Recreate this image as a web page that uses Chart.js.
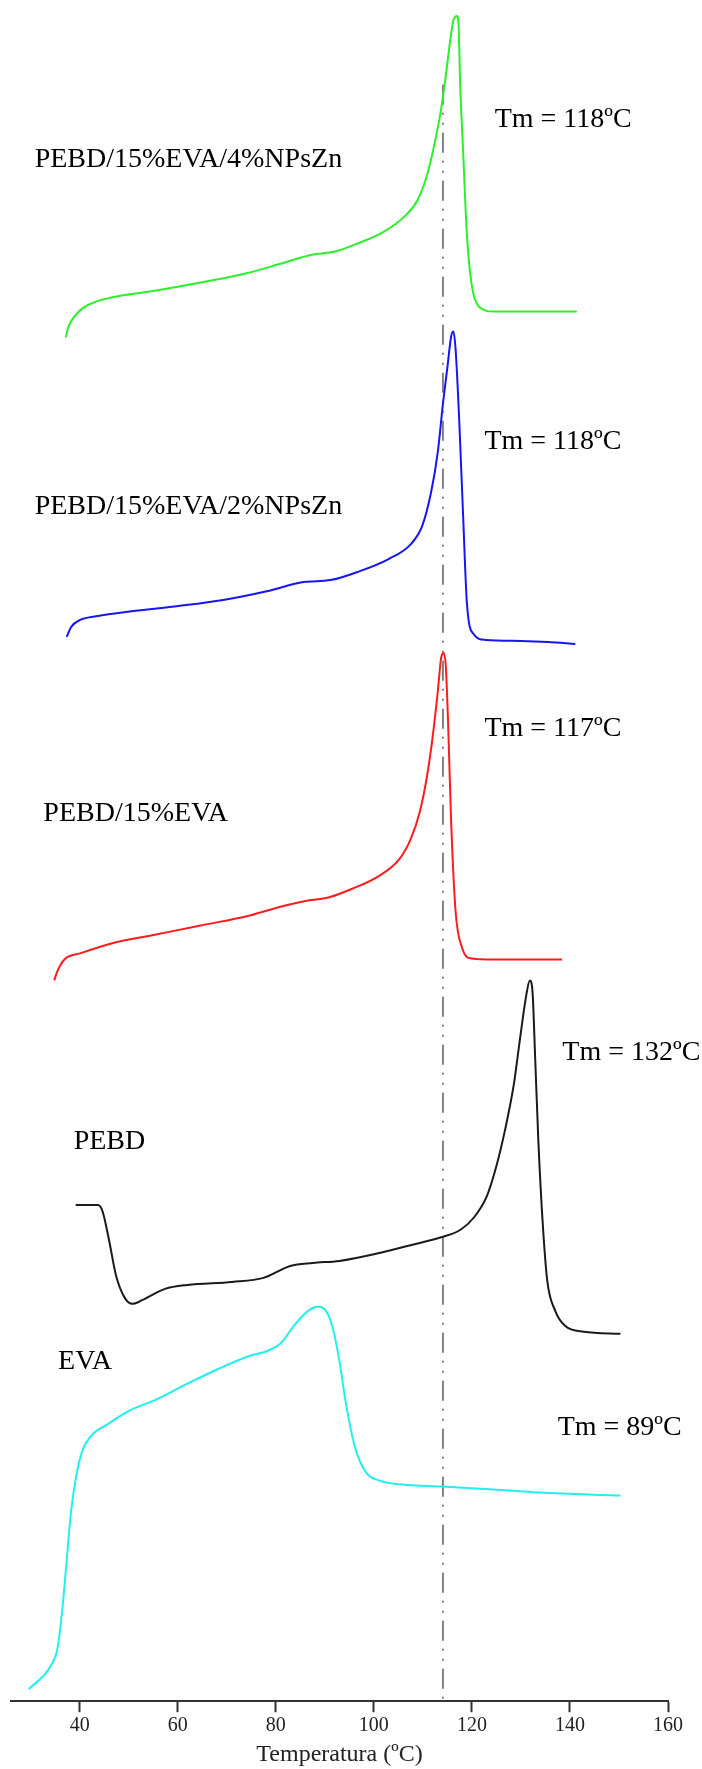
<!DOCTYPE html>
<html>
<head>
<meta charset="utf-8">
<script src="https://cdn.jsdelivr.net/npm/chart.js@4.4.1/dist/chart.umd.min.js"></script>
<style>
  html, body { margin: 0; padding: 0; background: #ffffff; }
  #wrap { width: 702px; height: 1769px; }
</style>
</head>
<body>
<div id="wrap"><canvas id="c" width="702" height="1769"></canvas></div>
<script>
// ---- Data (temperature in ºC, heat flow in arbitrary units, curves stacked) ----
const tickTemps = [40, 60, 80, 100, 120, 140, 160];

const tempNPs4 = [37.18, 37.54, 39.65, 41.92, 46.48, 55.60, 64.71, 73.83, 81.12, 87.51, 92.07, 96.62, 102.09, 106.65, 108.95, 110.76, 112.12, 113.60, 114.65, 115.60, 116.25, 116.98, 117.27, 117.60, 118.20, 118.96, 119.90, 121.40, 124.40, 141.40];
const flowNPs4 = [136.6, 137.4, 139.1, 139.9, 140.6, 141.3, 142.1, 143.0, 144.0, 144.9, 145.2, 146.0, 147.2, 148.9, 150.4, 152.7, 155.4, 159.1, 162.7, 166.4, 168.4, 168.8, 168.1, 162.1, 155.4, 147.1, 142.1, 139.7, 139.2, 139.2];

const tempNPs2 = [37.36, 38.27, 40.09, 43.75, 51.04, 60.15, 69.27, 78.39, 85.68, 91.16, 96.62, 103.01, 107.56, 109.85, 111.68, 113.04, 114.13, 115.03, 115.77, 116.24, 116.68, 117.41, 118.24, 118.97, 120.33, 122.80, 130.00, 135.60, 141.10];
const flowNPs2 = [106.6, 107.6, 108.3, 108.7, 109.2, 109.7, 110.3, 111.2, 112.1, 112.3, 113.1, 114.4, 115.9, 117.7, 121.1, 125.1, 130.1, 133.7, 136.7, 137.2, 135.4, 128.4, 118.4, 110.1, 106.9, 106.3, 106.2, 106.1, 105.9];

const tempBlend = [34.81, 35.53, 36.91, 40.09, 46.48, 55.60, 64.71, 74.74, 81.12, 86.60, 90.71, 95.71, 101.18, 105.29, 107.56, 109.38, 110.76, 111.95, 113.04, 113.76, 114.23, 114.68, 115.14, 115.77, 116.68, 118.06, 119.88, 124.40, 138.40];
const flowBlend = [72.2, 73.2, 74.3, 74.9, 75.9, 76.8, 77.7, 78.7, 79.6, 80.2, 80.5, 81.4, 82.7, 84.4, 86.4, 89.1, 92.4, 96.4, 101.1, 104.6, 105.0, 103.7, 98.1, 88.1, 79.1, 75.4, 74.4, 74.3, 74.3];

const tempPEBD = [39.19, 43.75, 44.65, 46.03, 47.39, 49.21, 50.77, 52.85, 57.41, 61.97, 71.09, 77.48, 82.95, 87.51, 92.97, 101.18, 108.48, 113.94, 117.60, 120.33, 123.06, 124.89, 126.71, 128.53, 129.91, 131.09, 131.81, 132.36, 132.91, 133.56, 134.47, 135.38, 137.00, 139.00, 142.80, 150.30];
const flowPEBD = [49.7, 49.7, 49.1, 46.1, 42.7, 40.4, 39.8, 40.2, 41.3, 41.7, 42.0, 42.4, 43.6, 43.9, 44.1, 44.9, 45.8, 46.5, 47.2, 48.4, 50.6, 53.4, 57.1, 61.7, 66.7, 70.7, 72.2, 71.1, 64.4, 56.1, 47.7, 42.1, 39.1, 37.6, 37.0, 36.8];

const tempEVA = [29.62, 34.18, 35.53, 36.44, 37.36, 38.27, 39.36, 40.56, 42.38, 45.56, 50.12, 55.60, 61.97, 68.36, 74.74, 78.39, 81.12, 83.85, 86.60, 88.60, 90.24, 91.62, 92.97, 94.35, 96.18, 98.45, 101.18, 105.74, 113.94, 124.40, 133.70, 150.30];
const flowEVA = [1.2, 3.6, 5.4, 9.1, 14.1, 19.1, 22.7, 25.1, 26.6, 27.7, 29.1, 30.2, 31.8, 33.3, 34.6, 35.1, 35.9, 37.7, 39.1, 39.5, 39.1, 37.4, 34.1, 29.7, 25.4, 22.9, 22.1, 21.7, 21.5, 21.2, 20.9, 20.6];

const refLineTemp = [114.1, 114.1];
const refLineFlow = [161.9, 0];

// Text annotations (data units: temperature, flow at text baseline)
const labelTexts = ['PEBD/15%EVA/4%NPsZn', 'Tm = 118ºC', 'PEBD/15%EVA/2%NPsZn', 'Tm = 118ºC', 'PEBD/15%EVA', 'Tm = 117ºC', 'PEBD', 'Tm = 132ºC', 'EVA', 'Tm = 89ºC'];
const labelTemps = [30.82, 124.65, 30.82, 122.55, 32.60, 122.55, 38.78, 138.44, 35.61, 137.50];
const labelFlows = [153.7, 157.7, 118.9, 125.4, 88.2, 96.7, 55.3, 64.2, 33.3, 26.7];

const pts = (xs, ys) => xs.map((x, i) => ({ x: x, y: ys[i] }));

const curve = (label, xs, ys, color) => ({
  label: label,
  data: pts(xs, ys),
  borderColor: color,
  borderWidth: 2,
  pointRadius: 0,
  fill: false,
  cubicInterpolationMode: 'monotone'
});

const textPlugin = {
  id: 'curveLabels',
  afterDatasetsDraw(chart) {
    const { ctx, scales } = chart;
    ctx.save();
    ctx.fillStyle = '#000000';
    ctx.font = '28px "Liberation Serif", "Times New Roman", serif';
    ctx.textAlign = 'left';
    ctx.textBaseline = 'alphabetic';
    labelTexts.forEach((t, i) => {
      ctx.fillText(t, scales.x.getPixelForValue(labelTemps[i]), scales.y.getPixelForValue(labelFlows[i]));
    });
    ctx.restore();
  }
};

new Chart(document.getElementById('c'), {
  type: 'line',
  data: {
    datasets: [
      curve('PEBD/15%EVA/4%NPsZn', tempNPs4, flowNPs4, '#2cf02c'),
      curve('PEBD/15%EVA/2%NPsZn', tempNPs2, flowNPs2, '#1616f2'),
      curve('PEBD/15%EVA', tempBlend, flowBlend, '#ff1c1c'),
      curve('PEBD', tempPEBD, flowPEBD, '#1a1a1a'),
      curve('EVA', tempEVA, flowEVA, '#20f0f0'),
      {
        label: 'Tm ref',
        data: pts(refLineTemp, refLineFlow),
        borderColor: '#666666',
        borderWidth: 1.6,
        borderDash: [20, 8, 2, 8, 2, 8],
        pointRadius: 0,
        fill: false
      }
    ]
  },
  options: {
    responsive: false,
    animation: false,
    layout: { padding: { left: 11, right: 34, top: 0, bottom: 0 } },
    plugins: { legend: { display: false }, tooltip: { enabled: false } },
    scales: {
      x: {
        type: 'linear',
        min: 26,
        max: 160,
        afterBuildTicks: (s) => { s.ticks = tickTemps.map(v => ({ value: v })); },
        grid: { drawOnChartArea: false, drawTicks: true, tickLength: 11, tickColor: '#333333', tickWidth: 2 },
        border: { display: true, color: '#333333', width: 2 },
        ticks: {
          autoSkip: false, maxRotation: 0, padding: 2,
          color: '#222222',
          font: { family: '"Liberation Serif", serif', size: 20 }
        },
        title: {
          display: true,
          text: 'Temperatura (ºC)',
          color: '#222222',
          font: { family: '"Liberation Serif", serif', size: 24 },
          padding: { top: 0, bottom: 0 }
        }
      },
      y: { display: false, min: 0, max: 170.4 }
    }
  },
  plugins: [textPlugin]
});
</script>
</body>
</html>
